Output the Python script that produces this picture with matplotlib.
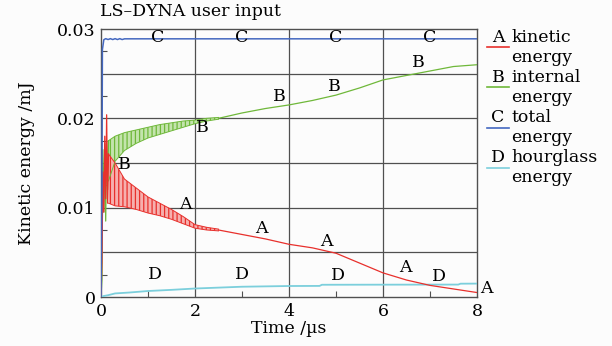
import matplotlib
matplotlib.use("Agg")
import matplotlib.pyplot as plt
from matplotlib.lines import Line2D
from matplotlib.ticker import FixedLocator

plt.rcParams['font.family'] = ['DejaVu Serif']
plt.rcParams['hatch.linewidth'] = 0.9

# ---------------- data ----------------
# C: total energy
t_C = [0, 0.02, 0.03, 0.06, 0.1, 0.15, 0.2, 0.25, 0.3, 0.35, 0.4, 0.45, 0.5, 8]
e_C = [0, 0.012, 0.0277, 0.0288, 0.02892, 0.02882, 0.02892, 0.02882, 0.02892,
       0.02882, 0.02892, 0.02882, 0.0289, 0.0289]

# A: kinetic energy -- early spikes, oscillation band, smooth tail
t_A_early = [0, 0.02, 0.04, 0.06, 0.08, 0.10, 0.12, 0.14, 0.16]
e_A_early = [0, 0.004, 0.014, 0.0095, 0.018, 0.011, 0.0204, 0.0105, 0.0160]
t_band = [0.16, 0.3, 0.5, 0.75, 1.0, 1.25, 1.5, 1.75, 2.0, 2.25, 2.5]
A_upper = [0.0160, 0.0150, 0.0132, 0.0122, 0.0112, 0.0105, 0.0098, 0.0090,
           0.0081, 0.0078, 0.0076]
A_lower = [0.0105, 0.0102, 0.0101, 0.0098, 0.0094, 0.0091, 0.0087, 0.0082,
           0.0077, 0.0075, 0.0074]
t_tail = [2.5, 3, 3.5, 4, 4.5, 5, 5.5, 6, 6.5, 7, 7.5, 8]
A_tail = [0.0075, 0.0070, 0.0065, 0.0059, 0.0055, 0.0049, 0.0038, 0.0027,
          0.0019, 0.0013, 0.0009, 0.0005]

# B: internal energy
t_B_early = [0, 0.02, 0.04, 0.06, 0.08, 0.10, 0.12, 0.14, 0.16]
e_B_early = [0, 0.002, 0.0165, 0.0095, 0.0172, 0.0085, 0.0175, 0.0120, 0.0175]
B_upper = [0.0175, 0.0180, 0.0184, 0.0187, 0.0190, 0.0193, 0.0195, 0.0197,
           0.0198, 0.0200, 0.0201]
B_lower = [0.0130, 0.0152, 0.0164, 0.0172, 0.0178, 0.0182, 0.0186, 0.0190,
           0.0194, 0.0197, 0.0199]
B_tail = [0.0200, 0.0206, 0.0211, 0.0215, 0.0220, 0.0226, 0.0234, 0.0243,
          0.0248, 0.0253, 0.0258, 0.0260]

# D: hourglass energy
t_D = [0, 0.05, 0.15, 0.3, 0.6, 1.0, 1.5, 2.0, 3.0, 4.0, 4.65, 4.7, 6, 7.6, 7.65, 8]
e_D = [0, 0.0001, 0.0002, 0.0004, 0.0005, 0.00067, 0.0008, 0.00095, 0.00115,
       0.00123, 0.00124, 0.00137, 0.00138, 0.00139, 0.00149, 0.0015]

legend_letters = ["A", "B", "C", "D"]
legend_names = ["kinetic", "internal", "total", "hourglass"]

x_ticks = [0, 2, 4, 6, 8]
y_ticks = [0, 0.01, 0.02, 0.03]
y_ticklabels = ["0", "0.01", "0.02", "0.03"]

# label positions along the curves
lab_C = [(1.2, 0.0291), (3.0, 0.0291), (5.0, 0.0291), (7.0, 0.0291)]
lab_B = [(0.5, 0.0148), (2.15, 0.0190), (3.8, 0.0224), (4.97, 0.0236), (6.75, 0.0262)]
lab_A = [(1.8, 0.0103), (3.42, 0.0077), (4.8, 0.0062), (6.47, 0.0033), (8.2, 0.0010)]
lab_D = [(1.15, 0.0025), (3.0, 0.0025), (5.05, 0.0024), (7.2, 0.0023)]

# ---------------- style ----------------
cA = "#e8302c"
cB = "#6fb83a"
cC = "#4468c0"
cD = "#7ccfdc"
grid_c = "#505050"

W, H = 612, 346
fig = plt.figure(figsize=(W / 100, H / 100), dpi=100)
fig.patch.set_facecolor("#fcfcfc")
ax = fig.add_axes([101 / W, 1 - 297 / H, (477 - 101) / W, (297 - 29) / H])
ax.set_facecolor("#fcfcfc")

ax.set_xlim(0, 8)
ax.set_ylim(0, 0.03)

# grid
for gx in [2, 4, 6]:
    ax.axvline(gx, color=grid_c, lw=0.9, zorder=1)
for gy in [0.005, 0.01, 0.015, 0.02, 0.025]:
    ax.axhline(gy, color=grid_c, lw=0.9, zorder=1)

# curves
lw = 0.9
ax.plot(t_D, e_D, color=cD, lw=1.3, zorder=3)
ax.plot(t_C, e_C, color=cC, lw=1.1, zorder=4)

ax.plot(t_B_early, e_B_early, color=cB, lw=lw, zorder=3)
ax.fill_between(t_band, B_lower, B_upper, facecolor="#c4e4ad", edgecolor=cB,
                hatch="||||", lw=0, zorder=2)
ax.plot(t_band, B_upper, color=cB, lw=0.7, zorder=3)
ax.plot(t_band, B_lower, color=cB, lw=0.7, zorder=3)
ax.plot(t_tail, B_tail, color=cB, lw=lw, zorder=3)

ax.plot(t_A_early, e_A_early, color=cA, lw=lw, zorder=3)
ax.fill_between(t_band, A_lower, A_upper, facecolor="#f6b0ae", edgecolor=cA,
                hatch="||||", lw=0, zorder=2)
ax.plot(t_band, A_upper, color=cA, lw=0.7, zorder=3)
ax.plot(t_band, A_lower, color=cA, lw=0.7, zorder=3)
ax.plot(t_tail, A_tail, color=cA, lw=lw, zorder=3)

fs = 12.5
for labs, letter in [(lab_A, "A"), (lab_B, "B"), (lab_C, "C"), (lab_D, "D")]:
    for (lx, ly) in labs:
        ax.text(lx, ly, letter, ha="center", va="center", fontsize=fs,
                color="black", zorder=5, clip_on=False)

# ticks
ax.xaxis.set_major_locator(FixedLocator(x_ticks))
ax.xaxis.set_minor_locator(FixedLocator([1, 3, 5, 7]))
ax.yaxis.set_major_locator(FixedLocator(y_ticks))
ax.yaxis.set_minor_locator(FixedLocator([0.0025, 0.0075, 0.0125, 0.0175, 0.0225, 0.0275]))
ax.set_yticklabels(y_ticklabels)
ax.tick_params(axis="both", which="major", direction="in", length=0,
               labelsize=fs, pad=4, colors="black")
ax.tick_params(axis="both", which="minor", direction="in", length=4,
               width=0.8, color=grid_c)
for s in ax.spines.values():
    s.set_color(grid_c)
    s.set_linewidth(1.0)

ax.set_xlabel("Time /µs", fontsize=fs, labelpad=0)
ax.set_ylabel("Kinetic energy /mJ", fontsize=fs, labelpad=16)

fig.text(100 / W, 1 - 12 / H, "LS–DYNA user input", fontsize=fs,
         ha="left", va="center")

# legend (manual)
colors = [cA, cB, cC, cD]
for i, (let, name, col) in enumerate(zip(legend_letters, legend_names, colors)):
    y1 = 37 + 40.3 * i
    y2 = y1 + 20
    fig.text(498 / W, 1 - y1 / H, let, fontsize=fs, ha="center", va="center")
    fig.text(511 / W, 1 - y1 / H, name, fontsize=fs, ha="left", va="center")
    fig.text(511 / W, 1 - y2 / H, "energy", fontsize=fs, ha="left", va="center")
    fig.add_artist(Line2D([487 / W, 509 / W], [1 - (y1 + 10) / H, 1 - (y1 + 10) / H],
                          color=col, lw=1.2))

fig.savefig("out.png", dpi=100, facecolor=fig.get_facecolor())
